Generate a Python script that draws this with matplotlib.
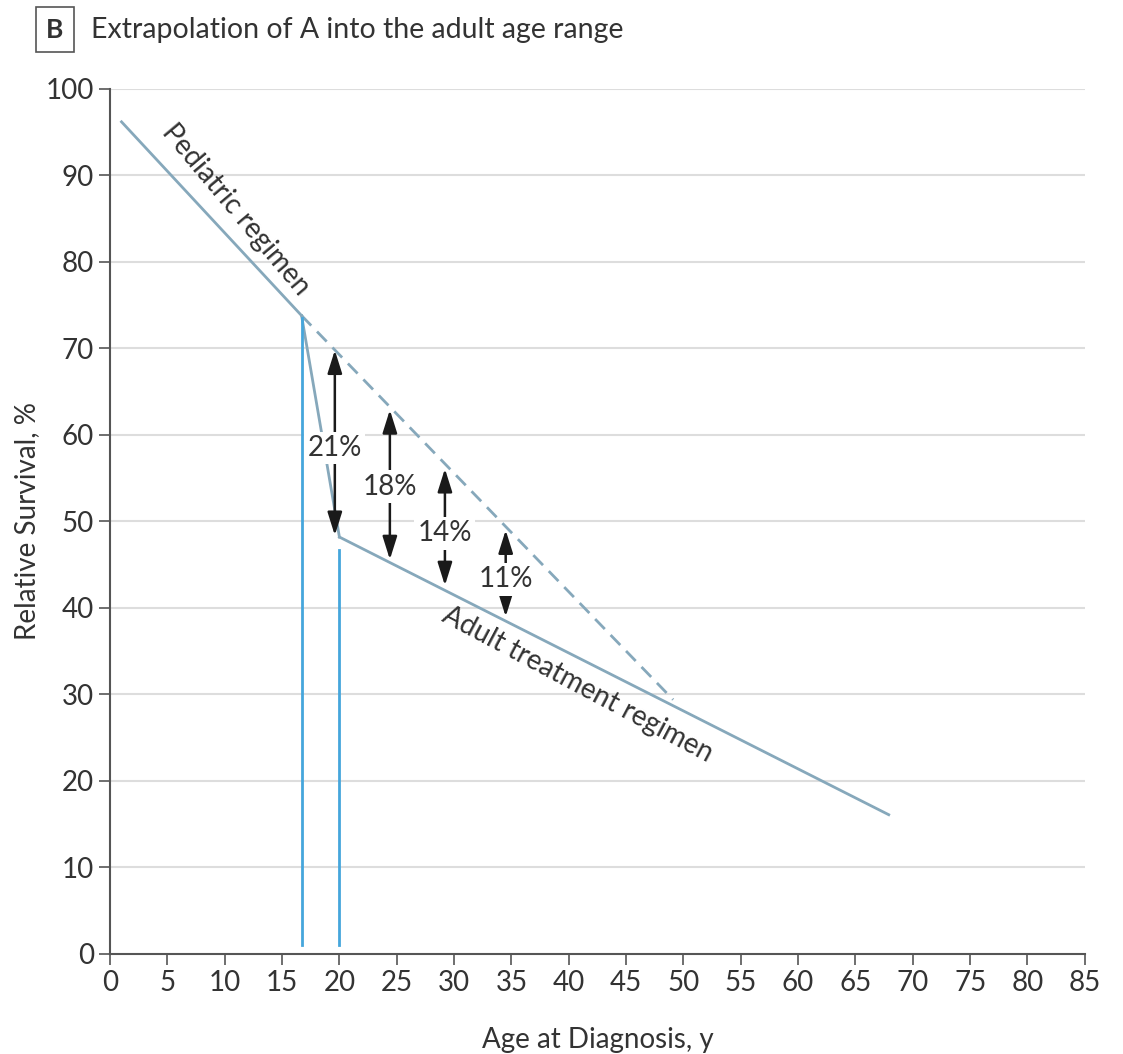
import matplotlib.pyplot as plt

plt.rcParams['font.family'] = ['Lato', 'DejaVu Sans']

# data
ped_x = [1.0, 16.7]
ped_y = [96.2, 73.8]
drop_x = [16.7, 20.0]
drop_y = [73.8, 48.2]
adult_x = [20.0, 67.9]
adult_y = [48.2, 16.1]
extrap_x = [16.7, 49.1]
extrap_y = [73.8, 29.4]

gap_x = [19.6, 24.4, 29.2, 34.5]
gap_top = [69.8, 62.9, 56.1, 49.0]
gap_bottom = [48.4, 45.6, 42.6, 39.0]
gap_text_y = [58.8, 54.3, 48.9, 43.6]
gap_labels = ['21%', '18%', '14%', '11%']

cut_x = [16.7, 20.0]
cut_top = [73.5, 46.7]

line_col = '#86a8bb'
cut_col = '#45a6dc'
txt_col = '#333333'

fig = plt.figure(figsize=(11.23, 10.54), dpi=100)
ax = fig.add_axes([0.098, 0.0949, 0.868, 0.8207])

for y in range(10, 101, 10):
    ax.axhline(y, color='#dddddd', lw=1.5, zorder=0)

ax.plot(ped_x, ped_y, color=line_col, lw=2)
ax.plot(drop_x, drop_y, color=line_col, lw=2)
ax.plot(adult_x, adult_y, color=line_col, lw=2)
ax.plot(extrap_x, extrap_y, color=line_col, lw=2, ls=(0, (5, 3)))

for xv, top in zip(cut_x, cut_top):
    ax.plot([xv, xv], [1, top], color=cut_col, lw=2)

arrow = dict(arrowstyle='-|>,head_length=0.7,head_width=0.22',
             color='#1a1a1a', lw=1.8, mutation_scale=20, shrinkA=0, shrinkB=0)
for xv, t, b, ty, lab in zip(gap_x, gap_top, gap_bottom, gap_text_y, gap_labels):
    ax.annotate('', xy=(xv, t), xytext=(xv, ty), arrowprops=arrow)
    ax.annotate('', xy=(xv, b), xytext=(xv, ty), arrowprops=arrow)
    ax.text(xv, ty, lab, ha='center', va='center_baseline', fontsize=20, color=txt_col,
            zorder=5, bbox=dict(boxstyle='square,pad=0.12', fc='white', ec='none'))

ax.text(11.0, 86.0, 'Pediatric regimen', rotation=-50, ha='center', va='center',
        fontsize=20, color=txt_col, rotation_mode='anchor')
ax.text(40.8, 31.2, 'Adult treatment regimen', rotation=-28, ha='center', va='center',
        fontsize=20, color=txt_col, rotation_mode='anchor')

ax.set_xlim(0, 85)
ax.set_ylim(0, 100)
ax.set_xticks(range(0, 86, 5))
ax.set_yticks(range(0, 101, 10))
ax.tick_params(labelsize=20, colors='#555555', labelcolor=txt_col, length=8, width=1.2)
for s in ['top', 'right']:
    ax.spines[s].set_visible(False)
for s in ['left', 'bottom']:
    ax.spines[s].set_color('#555555')
    ax.spines[s].set_linewidth(1.5)
ax.set_xlabel('Age at Diagnosis, y', fontsize=20, color=txt_col, labelpad=22)
ax.set_ylabel('Relative Survival, %', fontsize=20, color=txt_col, labelpad=4)

fig.text(0.049, 0.972, 'B', fontsize=19, fontweight='bold', color=txt_col, va='center', ha='center',
         bbox=dict(boxstyle='square,pad=0.4', fc='white', ec='#555555', lw=1.2))
fig.text(0.081, 0.972, 'Extrapolation of A into the adult age range', fontsize=20.5,
         color=txt_col, va='center', ha='left')

fig.savefig('out.png', dpi=100)
